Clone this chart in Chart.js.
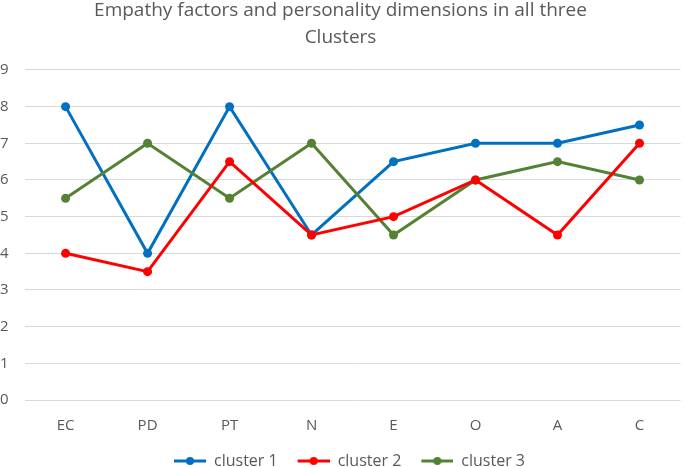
<!DOCTYPE html>
<html>
<head>
<meta charset="utf-8">
<script src="https://cdn.jsdelivr.net/npm/chart.js@4"></script>
<style>
  html, body { margin: 0; padding: 0; background: #fff; }
  #wrap { width: 685px; height: 467px; }
</style>
</head>
<body>
<div id="wrap"><canvas id="clusterChart"></canvas></div>
<script>
const categories = ['EC', 'PD', 'PT', 'N', 'E', 'O', 'A', 'C'];
const cluster1 = [8, 4, 8, 4.5, 6.5, 7, 7, 7.5];
const cluster2 = [4, 3.5, 6.5, 4.5, 5, 6, 4.5, 7];
const cluster3 = [5.5, 7, 5.5, 7, 4.5, 6, 6.5, 6];

const textGray = '#595959';
const ctx = document.getElementById('clusterChart').getContext('2d');

// "line with dot" legend marker, with a blank gap on the left so items sit apart
function legendMarker(color) {
    const c = document.createElement('canvas');
    c.width = 50;
    c.height = 10;
    const g = c.getContext('2d');
    g.strokeStyle = color;
    g.lineWidth = 3;
    g.beginPath();
    g.moveTo(18, 5);
    g.lineTo(50, 5);
    g.stroke();
    g.fillStyle = color;
    g.beginPath();
    g.arc(34, 5, 4, 0, Math.PI * 2);
    g.fill();
    return c;
}

function series(label, data, color, order) {
    return {
        label: label,
        data: data,
        borderColor: color,
        backgroundColor: color,
        borderWidth: 3,
        pointRadius: 4.5,
        pointHoverRadius: 4.5,
        pointBorderWidth: 0,
        tension: 0,
        order: order,
        marker: legendMarker(color)
    };
}

const clusterChart = new Chart(ctx, {
    type: 'line',
    data: {
        labels: categories,
        datasets: [
            series('cluster 1', cluster1, '#0070c0', 3),
            series('cluster 2', cluster2, '#ff0000', 1),
            series('cluster 3', cluster3, '#548235', 2)
        ]
    },
    options: {
        responsive: true,
        maintainAspectRatio: false,
        animation: false,
        layout: { padding: { left: 0, right: 4, top: -3, bottom: -12 } },
        plugins: {
            title: {
                display: true,
                text: ['Empathy factors and personality dimensions in all three', 'Clusters'],
                color: textGray,
                font: { family: 'Open Sans', size: 19, weight: 'normal', lineHeight: 1.42 },
                padding: { top: 0, bottom: 19 }
            },
            legend: {
                position: 'bottom',
                labels: {
                    color: textGray,
                    font: { family: 'Open Sans', size: 16 },
                    usePointStyle: true,
                    pointStyleWidth: 50,
                    padding: 2,
                    sort: (a, b) => a.datasetIndex - b.datasetIndex,
                    generateLabels: function (chart) {
                        return chart.data.datasets.map((ds, i) => ({
                            text: ds.label,
                            fillStyle: ds.borderColor,
                            strokeStyle: ds.borderColor,
                            lineWidth: 0,
                            pointStyle: ds.marker,
                            fontColor: textGray,
                            hidden: false,
                            datasetIndex: i
                        }));
                    }
                }
            },
            tooltip: { enabled: false }
        },
        scales: {
            x: {
                offset: true,
                grid: { display: false, drawTicks: false },
                border: { display: false },
                ticks: {
                    color: textGray,
                    font: { family: 'Open Sans', size: 15, lineHeight: 0.2 },
                    padding: 24
                }
            },
            y: {
                min: 0,
                max: 9,
                grid: { color: '#d9d9d9', lineWidth: 1, drawTicks: false },
                border: { display: false },
                ticks: {
                    stepSize: 1,
                    color: textGray,
                    font: { family: 'Open Sans', size: 15 },
                    padding: 8,
                    crossAlign: 'far'
                }
            }
        }
    }
});
</script>
</body>
</html>
